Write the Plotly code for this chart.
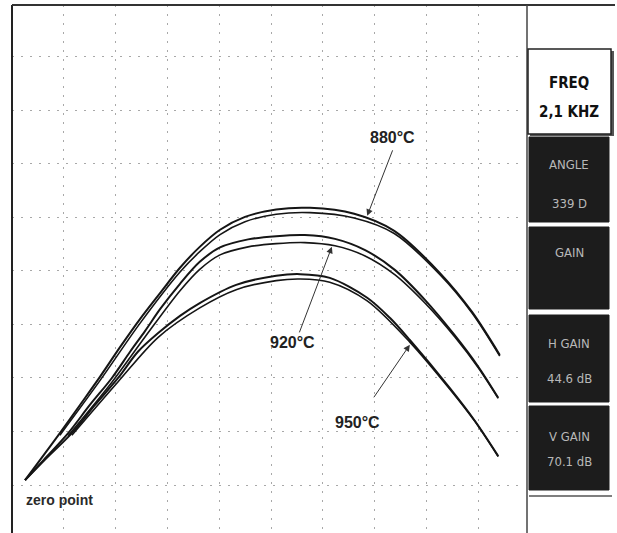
import plotly.graph_objects as go

# ---- data (screen divisions) ----
t880_x = [0.27, 0.56, 0.94, 1.33, 1.71, 2.10, 2.48, 2.87, 3.25, 3.63, 4.02, 4.50, 5.10, 5.75, 6.60, 7.37, 8.25, 8.87, 9.40]
t880_y = [1.09, 1.47, 1.97, 2.50, 3.02, 3.58, 4.10, 4.59, 5.06, 5.45, 5.77, 6.01, 6.15, 6.18, 6.07, 5.75, 4.96, 4.23, 3.43]
t880b_x = [0.94, 1.71, 2.48, 3.25, 3.63, 4.02, 4.50, 5.10, 5.75, 6.60, 7.37, 8.25, 8.87, 9.40]
t880b_y = [1.93, 2.95, 4.02, 4.98, 5.36, 5.68, 5.92, 6.06, 6.09, 5.99, 5.70, 4.93, 4.21, 3.41]

t920_x = [0.27, 0.63, 1.10, 1.52, 1.94, 2.29, 2.58, 2.87, 3.25, 3.63, 4.02, 4.56, 5.10, 5.65, 6.23, 6.81, 7.38, 7.96, 8.54, 8.98, 9.37]
t920_y = [1.09, 1.47, 1.97, 2.50, 3.00, 3.49, 3.88, 4.29, 4.76, 5.17, 5.44, 5.59, 5.65, 5.67, 5.60, 5.39, 5.02, 4.46, 3.79, 3.22, 2.63]
t920b_x = [1.10, 1.94, 2.58, 3.25, 3.63, 4.02, 4.56, 5.10, 5.65, 6.23, 6.81, 7.38, 7.96, 8.54, 8.98, 9.37]
t920b_y = [1.92, 2.92, 3.77, 4.63, 5.03, 5.30, 5.45, 5.51, 5.53, 5.47, 5.28, 4.93, 4.40, 3.76, 3.20, 2.62]

t950_x = [0.27, 0.65, 1.17, 1.62, 2.06, 2.44, 2.83, 3.25, 3.63, 4.33, 5.10, 5.56, 6.13, 6.85, 7.29, 7.67, 8.44, 8.92, 9.37]
t950_y = [1.09, 1.47, 1.97, 2.50, 3.00, 3.49, 3.84, 4.16, 4.40, 4.74, 4.91, 4.94, 4.87, 4.50, 4.12, 3.71, 2.81, 2.20, 1.54]
t950b_x = [1.17, 2.06, 2.83, 3.63, 4.33, 5.10, 5.56, 6.13, 6.85, 7.67, 8.44, 8.92, 9.37]
t950b_y = [1.93, 2.93, 3.76, 4.31, 4.65, 4.82, 4.85, 4.79, 4.44, 3.67, 2.79, 2.19, 1.53]

curve_labels = ["880°C", "920°C", "950°C"]
label_pos = [(7.33, 7.50), (5.42, 3.67), (6.67, 2.16)]
arrow_heads = [(6.85, 6.03), (6.17, 5.45), (7.67, 3.62)]
arrow_tails_px = [(26, -67), (-33, 87), (-37, 54)]

panel_labels = [("FREQ", "2,1 KHZ"), ("ANGLE", "339 D"), ("GAIN", ""), ("H GAIN", "44.6 dB"), ("V GAIN", "70.1 dB")]

# ---- figure ----
W, H = 617, 533
ML, MR, MT, MB = 12, 92, 5, 0
PW, PH = W - ML - MR, H - MT - MB

def px(xp):
    return (xp - ML) / PW

def py(yp):
    return (H - MB - yp) / PH

fig = go.Figure()
line_col = "#151515"
for (xa, ya, xb, yb) in [(t880_x, t880_y, t880b_x, t880b_y),
                         (t920_x, t920_y, t920b_x, t920b_y),
                         (t950_x, t950_y, t950b_x, t950b_y)]:
    fig.add_trace(go.Scatter(x=xa, y=ya, mode="lines",
                             line=dict(color=line_col, width=2, shape="spline", smoothing=0.9),
                             hoverinfo="skip", showlegend=False))
    fig.add_trace(go.Scatter(x=xb, y=yb, mode="lines",
                             line=dict(color=line_col, width=1.6, shape="spline", smoothing=0.9),
                             hoverinfo="skip", showlegend=False))

SANS = "Liberation Sans, Arial, sans-serif"
COND = "DejaVu Sans Condensed, Roboto Condensed, Liberation Sans Narrow, sans-serif"

annotations = []
for lab, (lx, ly) in zip(curve_labels, label_pos):
    annotations.append(dict(x=lx, y=ly, text="<b>" + lab + "</b>", showarrow=False,
                            xanchor="center", yanchor="middle",
                            font=dict(family=SANS, size=16, color="#222")))
for (hx, hy), (ax, ay) in zip(arrow_heads, arrow_tails_px):
    annotations.append(dict(x=hx, y=hy, text="", showarrow=True, ax=ax, ay=ay,
                            arrowhead=2, arrowsize=1.3, arrowwidth=1, arrowcolor="#333", standoff=0))
annotations.append(dict(x=0.25, y=0.72, text="<b>zero point</b>", showarrow=False,
                        xanchor="left", yanchor="middle",
                        font=dict(family=SANS, size=14, color="#2a2a2a")))

shapes = []
# borders
shapes.append(dict(type="line", xref="paper", yref="paper", x0=px(12), x1=px(12), y0=0, y1=py(5),
                   line=dict(color="#222", width=2)))
shapes.append(dict(type="line", xref="paper", yref="paper", x0=px(12), x1=px(615), y0=py(5), y1=py(5),
                   line=dict(color="#333", width=2)))
shapes.append(dict(type="line", xref="paper", yref="paper", x0=px(527), x1=px(527), y0=0, y1=py(5),
                   line=dict(color="#444", width=1.5)))

# right panel boxes (top, bottom in pixels)
boxes = [(49, 134), (137, 222), (227, 309), (315, 402), (406, 490)]
text_rows = [(83, 112), (165, 203), (252, None), (343, 378), (437, 461)]
for i, ((yt, yb), (l1, l2), (r1, r2)) in enumerate(zip(boxes, panel_labels, text_rows)):
    if i == 0:
        shapes.append(dict(type="rect", xref="paper", yref="paper", x0=px(530), x1=px(614),
                           y0=py(yb + 2), y1=py(yt + 2), fillcolor="#555", line=dict(width=0)))
        shapes.append(dict(type="rect", xref="paper", yref="paper", x0=px(528), x1=px(611),
                           y0=py(yb), y1=py(yt), fillcolor="white", line=dict(color="#222", width=1.5)))
        tcol, size = "#111", 15
        t1, t2 = "<b>" + l1 + "</b>", "<b>" + l2 + "</b>"
    else:
        shapes.append(dict(type="rect", xref="paper", yref="paper", x0=px(529), x1=px(609),
                           y0=py(yb), y1=py(yt), fillcolor="#1c1c1c", line=dict(color="#1c1c1c", width=1)))
        tcol, size = "#b8b8b8", 13
        t1, t2 = l1, l2
    annotations.append(dict(xref="paper", yref="paper", x=px(569), y=py(r1), text=t1, showarrow=False,
                            xanchor="center", yanchor="middle",
                            font=dict(family=COND, size=size, color=tcol)))
    if r2 is not None and l2:
        annotations.append(dict(xref="paper", yref="paper", x=px(569), y=py(r2), text=t2, showarrow=False,
                                xanchor="center", yanchor="middle",
                                font=dict(family=COND, size=size, color=tcol)))
shapes.append(dict(type="line", xref="paper", yref="paper", x0=px(529), x1=px(612), y0=py(496), y1=py(496),
                   line=dict(color="#555", width=1.5)))

axis_common = dict(showticklabels=False, ticks="", zeroline=False, showline=False,
                   showgrid=True, gridcolor="#a8a8a8", griddash="2px,7px", gridwidth=1,
                   tick0=0, dtick=1, fixedrange=True)
fig.update_layout(
    width=W, height=H,
    margin=dict(l=ML, r=MR, t=MT, b=MB, pad=0),
    paper_bgcolor="white", plot_bgcolor="white",
    xaxis=dict(range=[0.019, 9.885], **axis_common),
    yaxis=dict(range=[0.103, 9.97], **axis_common),
    shapes=shapes, annotations=annotations, showlegend=False,
)
fig.write_html("out.html", config={"displayModeBar": False},
               post_script="document.body.style.margin='0px';document.body.style.overflow='hidden';")
